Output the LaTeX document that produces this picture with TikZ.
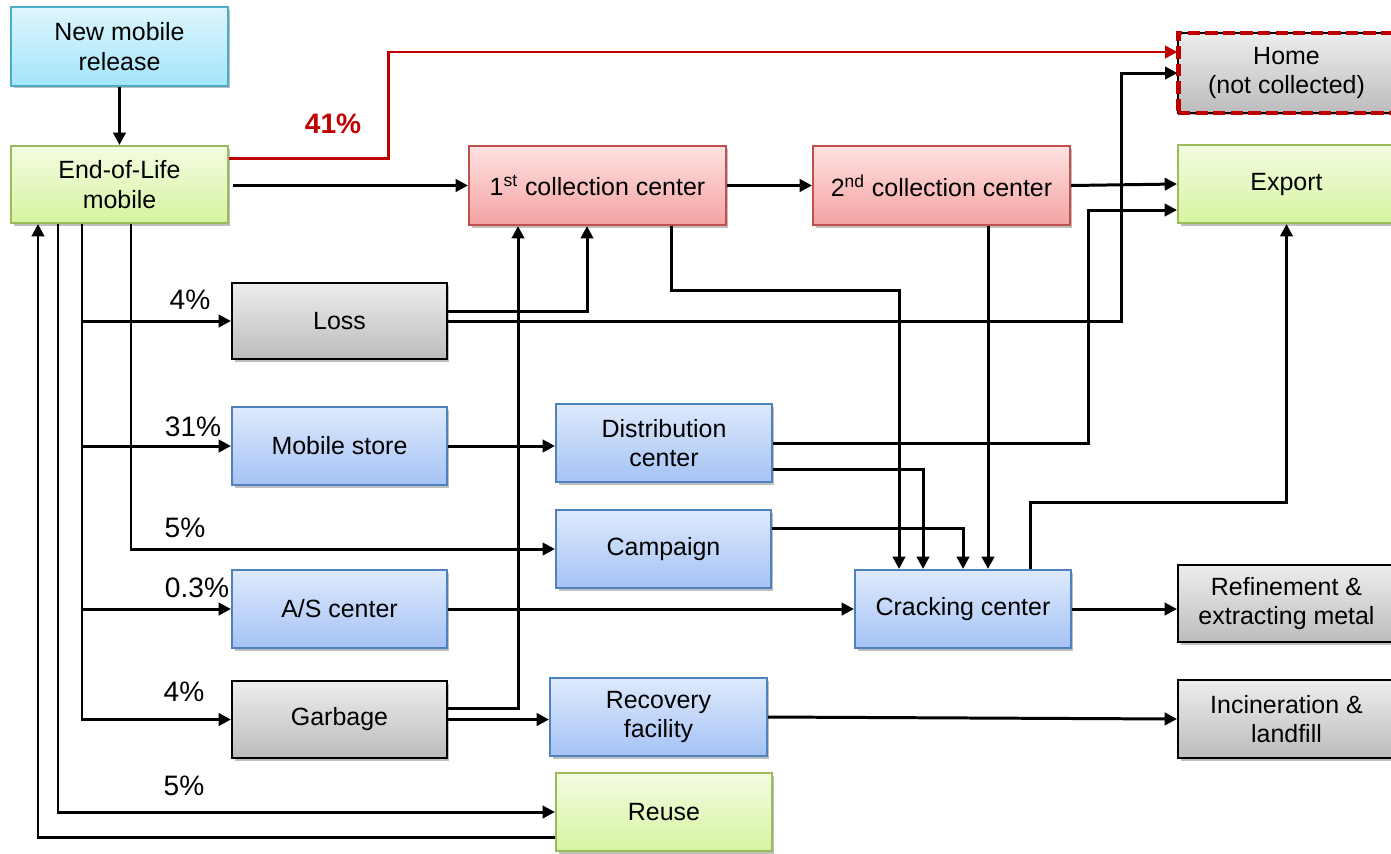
\documentclass[tikz,border=0pt]{standalone}
\usepackage{fontspec}
\setmainfont{Liberation Sans}
\usetikzlibrary{arrows.meta,shadows}
\definecolor{cyanT}{HTML}{DDF6FD}\definecolor{cyanB}{HTML}{A3E5FA}\definecolor{cyanD}{HTML}{4BACC6}
\definecolor{grnT}{HTML}{F4FCE2}\definecolor{grnB}{HTML}{D6F4A0}\definecolor{grnD}{HTML}{9BBB59}
\definecolor{redT}{HTML}{FFE2E2}\definecolor{redB}{HTML}{F4A2A2}\definecolor{redD}{HTML}{C0504D}
\definecolor{bluT}{HTML}{DEE9FC}\definecolor{bluB}{HTML}{A5C3F5}\definecolor{bluD}{HTML}{4F81BD}
\definecolor{gryT}{HTML}{EDEDED}\definecolor{gryB}{HTML}{BCBCBC}
\definecolor{homeRed}{HTML}{C00000}
\tikzset{
  bx/.style={rectangle, align=center, line width=1.2pt, inner sep=2pt,
    font=\fontsize{14.2}{16.8}\selectfont,
    drop shadow={shadow xshift=0.05cm, shadow yshift=-0.05cm, opacity=0.25, fill=black}},
  sw/.style={minimum width=4.34cm},
  swn/.style={minimum width=4.30cm},
  hh/.style={minimum height=1.56cm},
  cyanbox/.style={bx, top color=cyanT, bottom color=cyanB, draw=cyanD},
  grnbox/.style={bx, top color=grnT, bottom color=grnB, draw=grnD},
  redbox/.style={bx, top color=redT, bottom color=redB, draw=redD},
  blubox/.style={bx, top color=bluT, bottom color=bluB, draw=bluD},
  grybox/.style={bx, top color=gryT, bottom color=gryB, draw=black},
  homebox/.style={bx, top color=gryT, bottom color=gryB, draw=black, line width=0.8pt,
    postaction={draw=homeRed, line width=2.8pt, dash pattern=on 7pt off 3pt}},
  arr/.style={line width=1.7pt, -{Triangle[length=7pt,width=7pt]}},
  redarr/.style={line width=1.7pt, draw=homeRed, -{Triangle[length=7pt,width=7pt]}},
  pct/.style={font=\fontsize{16}{19}\selectfont, inner sep=0pt},
  redpct/.style={font=\fontsize{16}{19}\selectfont\bfseries, text=homeRed, inner sep=0pt}
}
\begin{document}
\begin{tikzpicture}[x=0.02cm,y=-0.02cm]
\useasboundingbox (0,0) rectangle (1391,853);
% nodes
\node[cyanbox, sw, minimum height=1.58cm] (nmr) at (119.5,46.5) {New mobile\\release};
\node[grnbox, sw, minimum height=1.54cm] (eol) at (119.5,184.5) {End-of-Life\\mobile};
\node[grybox, swn, minimum height=1.52cm] (loss) at (339.5,321) {Loss};
\node[blubox, swn, hh] (store) at (339.5,446) {Mobile store};
\node[blubox, minimum width=4.32cm, hh] (dist) at (664,443) {Distribution\\center};
\node[blubox, swn, hh] (camp) at (663.5,549) {Campaign};
\node[blubox, swn, hh] (as) at (339.5,609) {A/S center};
\node[grybox, swn, minimum height=1.54cm] (garb) at (339.5,719.5) {Garbage};
\node[blubox, sw, hh] (recov) at (658.5,717) {Recovery\\facility};
\node[grnbox, minimum width=4.32cm, hh] (reuse) at (664,812) {Reuse};
\node[redbox, minimum width=5.14cm, minimum height=1.58cm] (c1) at (597.5,185.5) {1\textsuperscript{st} collection center};
\node[redbox, minimum width=5.14cm, minimum height=1.58cm] (c2) at (941.5,185.5) {2\textsuperscript{nd} collection center};
\node[homebox, sw, minimum height=1.6cm] (home) at (1286.5,73) {Home\\(not collected)};
\node[grnbox, sw, hh] (export) at (1286.5,184) {Export};
\node[blubox, minimum width=4.32cm, hh] (crack) at (963,609) {Cracking center};
\node[grybox, sw, minimum height=1.54cm] (refine) at (1286.5,603.5) {Refinement \&\\extracting metal};
\node[grybox, sw, hh] (incin) at (1286.5,719) {Incineration \&\\landfill};
% labels
\node[redpct] (l41) at (333,124) {41\%};
\node[pct] (lloss) at (190,300) {4\%};
\node[pct] (lstore) at (193,427) {31\%};
\node[pct] (lcamp) at (185,528) {5\%};
\node[pct] (las) at (197,588) {0.3\%};
\node[pct] (lgarb) at (184,692) {4\%};
\node[pct] (lreuse) at (184,786) {5\%};
% connectors
\draw[arr] (nmr) -- (eol);
\draw[redarr] (eol.east |- 0,158) -- (388,158) |- (home.west |- 0,52);
\draw[arr] ([xshift=0.08cm]eol.east |- c1.west) -- (c1.west);
\draw[arr] (c1) -- (c2);
\draw[arr] (c2.east) -- (export.west);
% left trunk lines
\draw[arr] (reuse.west |- 0,837) -| (eol.south -| 38,0);
\draw[arr] (eol.south -| 58,0) |- (reuse.west);
\draw[arr] (eol.south -| 82,0) |- (loss.west);
\draw[arr] (eol.south -| 82,0) |- (store.west);
\draw[arr] (eol.south -| 82,0) |- (as.west);
\draw[arr] (eol.south -| 82,0) |- (garb.west);
\draw[arr] (eol.south -| 131,0) |- (camp.west);
% loss
\draw[arr] ([yshift=0.2cm]loss.east) -| (c1.south -| 587,0);
\draw[arr] (loss.east) -| (1121,73) -- (home.west);
% garbage
\draw[arr] ([yshift=0.23cm]garb.east) -| (c1.south -| 518,0);
\draw[arr] (garb.east) -- (recov.west |- garb.east);
% store, A/S
\draw[arr] (store.east) -- (dist.west |- store.east);
\draw[arr] (as) -- (crack);
% to cracking center
\draw[arr] (c1.south -| 671,0) -- (671,290) -| (crack.north -| 899,0);
\draw[arr] ([yshift=-0.52cm]dist.east) -| (crack.north -| 923,0);
\draw[arr] ([yshift=0.42cm]camp.east) -| (crack.north);
\draw[arr] (c2.south -| 988,0) -- (crack.north -| 988,0);
% distribution to export
\draw[arr] (dist.east) -| (1088,210) -- (export.west |- 0,210);
% cracking out
\draw[arr] (crack.north -| 1030,0) |- (1286.5,502) -- (export.south);
\draw[arr] (crack.east) -- (refine.west |- crack.east);
\draw[arr] (recov.east) -- (incin.west);
\end{tikzpicture}
\end{document}
